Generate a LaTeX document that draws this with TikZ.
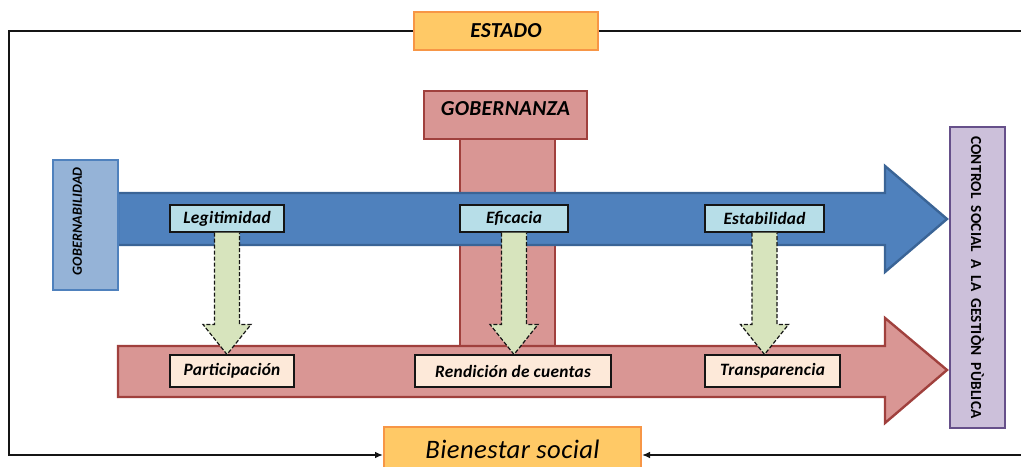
\documentclass[tikz,border=0pt]{standalone}
\usepackage{fontspec}
\setmainfont{Carlito}[LetterSpace=1.5]
\usepackage{tikz}
\usetikzlibrary{arrows.meta, calc, positioning}
\usepackage{xcolor}
\definecolor{Gold}{HTML}{FFC966}
\definecolor{GoldEdge}{HTML}{F79646}
\definecolor{Rose}{HTML}{D99694}
\definecolor{RoseEdge}{HTML}{A0403D}
\definecolor{Steel}{HTML}{4F81BD}
\definecolor{SteelEdge}{HTML}{3A6496}
\definecolor{LiteSteel}{HTML}{95B3D7}
\definecolor{Lilac}{HTML}{CCC0DA}
\definecolor{LilacEdge}{HTML}{66508A}
\definecolor{Sky}{HTML}{B7DEE8}
\definecolor{Peach}{HTML}{FDE9D9}
\definecolor{Sage}{HTML}{D7E4BD}
\definecolor{RichBlack}{HTML}{151515}
\tikzset{%
  gold_block/.style={%
    rectangle,%
    inner sep=0pt,%
    draw=GoldEdge,%
    fill=Gold,%
    line width=1.5pt,%
    align=center%
  },
  rose_block/.style={%
    rectangle,%
    inner sep=0pt,%
    draw=RoseEdge,%
    fill=Rose,%
    line width=1.5pt,%
    align=center%
  },
  head_text/.style={%
    font={\fontsize{16}{18}\selectfont\bfseries\itshape}%
  },
  value_block/.style={%
    rectangle,%
    inner sep=0pt,%
    draw=RichBlack,%
    fill=Sky,%
    line width=0.8pt,%
    minimum height=20.25pt,%
    font={\fontsize{13}{15}\selectfont\bfseries\itshape}%
  },
  result_block/.style={%
    value_block,%
    fill=Peach,%
    minimum height=24pt%
  },
  blue_flow/.style={%
    draw=SteelEdge,%
    fill=Steel,%
    line width=1.8pt,%
    line join=miter%
  },
  rose_flow/.style={%
    draw=RoseEdge,%
    fill=Rose,%
    line width=1.8pt,%
    line join=miter%
  },
  drop_path/.style={%
    draw=RichBlack,%
    fill=Sage,%
    dash pattern=on 3pt off 1.5pt,%
    line width=0.9pt%
  },
  frame_path/.style={%
    color=RichBlack,%
    line width=1.1pt,%
    -{Latex[length=6pt, width=5pt]}%
  },
}
\newcommand{\droparrow}[2]{%
  \draw [drop_path]
    ($(#1.south)+(-12.5,0)$)
    --
    ($(#1.south |- #2.north)+(-12.5,-30)$)
    --
    ($(#1.south |- #2.north)+(-24,-30)$)
    --
    (#1.south |- #2.north)
    --
    ($(#1.south |- #2.north)+(24,-30)$)
    --
    ($(#1.south |- #2.north)+(12.5,-30)$)
    --
    ($(#1.south)+(12.5,0)$);
}

\begin{document}
\begin{tikzpicture}[x=0.75pt, y=-0.75pt]
  \useasboundingbox (0,0) rectangle (1021,467);
  \clip (0,0) rectangle (1021,467);

  % pillar and flows
  \node [rose_block, minimum width=71.25pt, minimum height=155.25pt] (stem) at (507.5,242.5) {};
  \draw [blue_flow]
    (118,193) -- (885,193) -- (885,166) -- (947,219) -- (885,272) -- (885,245) -- (118,245) -- cycle;
  \draw [rose_flow]
    (118,346) -- (885,346) -- (885,318) -- (947,370) -- (885,423) -- (885,397) -- (118,397) -- cycle;

  \node [gold_block, head_text, minimum width=138pt, minimum height=28.5pt] (estado) at (506,31) {ESTADO};
  \node [rose_block, head_text, minimum width=122.25pt, minimum height=36pt,
    text height=10pt, text depth=10pt] (gobernanza) at (505.5,115) {GOBERNANZA};
  \node [rectangle, draw=Steel, fill=LiteSteel, line width=1.5pt, inner sep=0pt,
    minimum width=97.5pt, minimum height=48.75pt, rotate=90,
    text height=7pt, text depth=12.6pt,
    font={\fontsize{10.5}{12}\selectfont\bfseries\itshape}] (gobernabilidad) at (85.5,225)
    {\makebox[76pt][s]{GOBERNABILIDAD}};
  \node [rectangle, draw=LilacEdge, fill=Lilac, line width=1.5pt, inner sep=0pt,
    minimum width=225.75pt, minimum height=41.25pt, rotate=-90,
    font={\fontsize{11.5}{13}\selectfont\bfseries}] (control) at (977.5,277.5)
    {\makebox[212pt][s]{CONTROL SOCIAL A LA GESTIÒN PÙBLICA}};

  % values
  \node [value_block, minimum width=85.5pt] (legitimidad) at (227,218.5) {Legitimidad};
  \node [value_block, minimum width=81pt] (eficacia) at (514,218.5) {Eficacia};
  \node [value_block, minimum width=89.25pt] (estabilidad) at (764.5,218.5) {Estabilidad};
  \node [result_block, minimum width=93pt] (participacion) at (232,371) {Participación};
  \node [result_block, minimum width=147pt] (rendicion) at (513,371) {Rendición de cuentas};
  \node [result_block, minimum width=101.25pt] (transparencia) at (772.5,371) {Transparencia};

  \droparrow{legitimidad}{participacion}
  \droparrow{eficacia}{rendicion}
  \droparrow{estabilidad}{transparencia}

  \node [gold_block, minimum width=192.75pt, minimum height=33pt,
    font={\fontsize{20}{22}\selectfont\itshape}] (bienestar) at (512.5,449) {Bienestar social};

  % outer frame
  \coordinate (frame_sw) at (9,455);
  \coordinate (frame_se) at (1030,455);
  \draw [frame_path] (estado.west) -| (frame_sw) -- (frame_sw -| bienestar.west);
  \draw [frame_path] (estado.east) -| (frame_se) -- (frame_se -| bienestar.east);
\end{tikzpicture}
\end{document}
